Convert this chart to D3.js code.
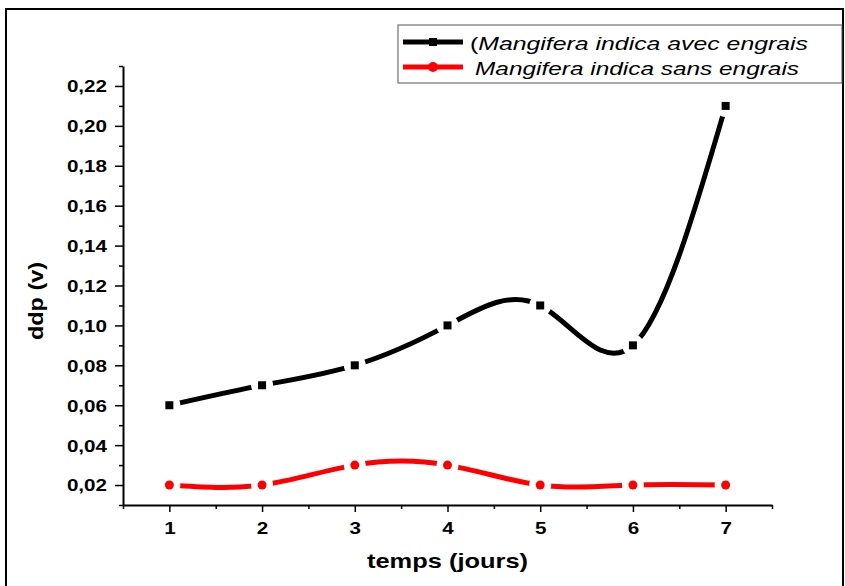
<!DOCTYPE html>
<html>
<head>
<meta charset="utf-8">
<script src="https://cdn.jsdelivr.net/npm/d3@7"></script>
<style>
body { margin: 0; background: #fff; }
text { font-family: "Liberation Sans", Arial, sans-serif; }
</style>
</head>
<body>
<script>
var svgWidth = 845;
var svgHeight = 586;

// data
var days = [1, 2, 3, 4, 5, 6, 7];
var avecEngrais = [0.06, 0.07, 0.08, 0.10, 0.11, 0.09, 0.21];
var sansEngrais = [0.02, 0.02, 0.03, 0.03, 0.02, 0.02, 0.02];
var seriesNames = ["Mangifera indica avec engrais", "Mangifera indica sans engrais"];
var yMajor = [0.02, 0.04, 0.06, 0.08, 0.10, 0.12, 0.14, 0.16, 0.18, 0.20, 0.22];
var yMinor = [0.01, 0.03, 0.05, 0.07, 0.09, 0.11, 0.13, 0.15, 0.17, 0.19, 0.21, 0.23];
var xMinor = [0.5, 1.5, 2.5, 3.5, 4.5, 5.5, 6.5, 7.5];

var textStretch = 1.25;
var frLocale = d3.formatLocale({decimal: ",", thousands: ".", grouping: [3], currency: ["", " €"]});
var yFormat = frLocale.format(".2f");

var x = d3.scaleLinear().domain([0.5, 7.5]).range([123, 772]);
var y = d3.scaleLinear().domain([0.01, 0.23]).range([505, 66]);

var svg = d3.select("body")
    .append("svg")
    .attr("width", svgWidth)
    .attr("height", svgHeight);

// outer frame
svg.append("rect")
    .attr("x", 6)
    .attr("y", 9)
    .attr("width", 837)
    .attr("height", 600)
    .attr("fill", "none")
    .attr("stroke", "#000")
    .attr("stroke-width", 2);

// minor ticks first, then major axes on top
svg.append("g")
    .attr("transform", "translate(" + x.range()[0] + ",0)")
    .call(d3.axisLeft(y).tickValues(yMinor).tickSize(4).tickFormat(""))
    .call(function (g) { g.select(".domain").remove(); })
    .selectAll("line").attr("stroke-width", 1.5);

svg.append("g")
    .attr("transform", "translate(0," + y.range()[0] + ")")
    .call(d3.axisBottom(x).tickValues(xMinor).tickSize(4).tickFormat(""))
    .call(function (g) { g.select(".domain").remove(); })
    .selectAll("line").attr("stroke-width", 1.5);

var yAxis = svg.append("g")
    .attr("transform", "translate(" + x.range()[0] + ",0)")
    .call(d3.axisLeft(y).tickValues(yMajor).tickSize(8).tickSizeOuter(0).tickFormat(yFormat));

var xAxis = svg.append("g")
    .attr("transform", "translate(0," + y.range()[0] + ")")
    .call(d3.axisBottom(x).tickValues(days).tickSize(7).tickSizeOuter(0).tickFormat(d3.format("d")));

[yAxis, xAxis].forEach(function (g) {
    g.select(".domain").attr("stroke-width", 2);
    g.selectAll(".tick line").attr("stroke-width", 1.5);
    g.selectAll(".tick text")
        .attr("font-family", "Liberation Sans, Arial, sans-serif")
        .attr("font-size", "16.5px")
        .attr("font-weight", "bold")
        .attr("fill", "#000");
});

yAxis.selectAll(".tick text")
    .attr("x", -16 / textStretch)
    .attr("dy", "0.36em")
    .attr("transform", "scale(" + textStretch + ",1)");

xAxis.selectAll(".tick text")
    .attr("y", 29)
    .attr("dy", 0)
    .attr("transform", "scale(" + textStretch + ",1)");

// axis titles
svg.append("text")
    .text("temps (jours)")
    .attr("x", 447.5)
    .attr("y", 568)
    .attr("text-anchor", "middle")
    .attr("font-size", "21px")
    .attr("font-weight", "bold")
    .attr("textLength", 161)
    .attr("lengthAdjust", "spacingAndGlyphs");

svg.append("text")
    .text("ddp (v)")
    .attr("transform", "translate(43,301) rotate(-90)")
    .attr("text-anchor", "middle")
    .attr("font-size", "21px")
    .attr("font-weight", "bold")
    .attr("textLength", 78)
    .attr("lengthAdjust", "spacingAndGlyphs");

// series
var series = [
    {name: seriesNames[0], values: avecEngrais, color: "#000", shape: "square"},
    {name: seriesNames[1], values: sansEngrais, color: "#ff0000", shape: "circle"}
];

var line = d3.line()
    .x(function (d) { return x(d[0]); })
    .y(function (d) { return y(d[1]); })
    .curve(d3.curveNatural);

var defs = svg.append("defs");

series.forEach(function (s, k) {
    var pts = days.map(function (d, i) { return [d, s.values[i]]; });

    // gaps around each symbol, like the original plot
    var mask = defs.append("mask").attr("id", "gap" + k);
    mask.append("rect")
        .attr("width", svgWidth)
        .attr("height", svgHeight)
        .attr("fill", "#fff");
    mask.selectAll("circle")
        .data(pts)
        .enter()
        .append("circle")
        .attr("cx", function (d) { return x(d[0]); })
        .attr("cy", function (d) { return y(d[1]); })
        .attr("r", 11)
        .attr("fill", "#000");

    svg.append("path")
        .datum(pts)
        .attr("d", line)
        .attr("fill", "none")
        .attr("stroke", s.color)
        .attr("stroke-width", 5)
        .attr("mask", "url(#gap" + k + ")");

    if (s.shape === "square") {
        svg.selectAll(".sq" + k)
            .data(pts)
            .enter()
            .append("rect")
            .attr("class", "sq" + k)
            .attr("x", function (d) { return x(d[0]) - 4; })
            .attr("y", function (d) { return y(d[1]) - 4; })
            .attr("width", 8)
            .attr("height", 8)
            .attr("fill", s.color);
    } else {
        svg.selectAll(".ci" + k)
            .data(pts)
            .enter()
            .append("circle")
            .attr("class", "ci" + k)
            .attr("cx", function (d) { return x(d[0]); })
            .attr("cy", function (d) { return y(d[1]); })
            .attr("r", 4.5)
            .attr("fill", s.color);
    }
});

// legend
var legend = svg.append("g");
legend.append("rect")
    .attr("x", 398)
    .attr("y", 25)
    .attr("width", 444)
    .attr("height", 58)
    .attr("fill", "#fff")
    .attr("stroke", "#555")
    .attr("stroke-width", 1);

var legendRows = [42, 67];
var legendTextLen = [338, 324];
series.forEach(function (s, k) {
    var ly = legendRows[k];
    legend.append("line")
        .attr("x1", 403)
        .attr("x2", 463)
        .attr("y1", ly)
        .attr("y2", ly)
        .attr("stroke", s.color)
        .attr("stroke-width", 5);
    if (s.shape === "square") {
        legend.append("rect")
            .attr("x", 429)
            .attr("y", ly - 4)
            .attr("width", 8)
            .attr("height", 8)
            .attr("fill", s.color);
    } else {
        legend.append("circle")
            .attr("cx", 433)
            .attr("cy", ly)
            .attr("r", 5)
            .attr("fill", s.color);
    }
    var t = legend.append("text")
        .attr("x", k === 0 ? 470 : 475)
        .attr("y", ly + 8)
        .attr("font-size", "19px")
        .attr("textLength", legendTextLen[k])
        .attr("lengthAdjust", "spacingAndGlyphs");
    if (k === 0) {
        t.append("tspan").text("(");
    }
    t.append("tspan").attr("font-style", "italic").text(s.name);
});
</script>
</body>
</html>
